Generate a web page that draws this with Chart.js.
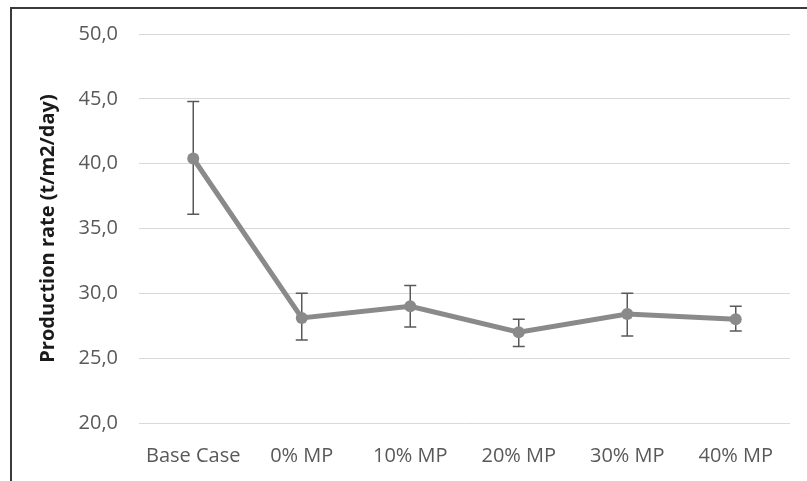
<!DOCTYPE html>
<html>
<head>
<meta charset="utf-8">
<script src="https://cdn.jsdelivr.net/npm/chart.js@4"></script>
<style>
  html, body { margin: 0; padding: 0; background: #fff; }
  #wrap { position: relative; width: 807px; height: 481px; }
  #frame { position: absolute; left: 10px; top: 7px; right: -5px; bottom: -5px;
           border-top: 2px solid #3a3a3a; border-left: 2px solid #3a3a3a; }
  canvas { position: absolute; left: 0; top: 0; }
</style>
</head>
<body>
<div id="wrap">
  <div id="frame"></div>
  <canvas id="chart" width="807" height="481"></canvas>
</div>
<script>
const categories = ['Base Case', '0% MP', '10% MP', '20% MP', '30% MP', '40% MP'];
const productionRate = [40.4, 28.1, 29.0, 27.0, 28.4, 28.0];
const errorUpper = [44.8, 30.0, 30.6, 28.0, 30.0, 29.0];
const errorLower = [36.1, 26.4, 27.4, 25.9, 26.7, 27.1];
const yTicks = [20, 25, 30, 35, 40, 45, 50];

const errorBars = {
  id: 'errorBars',
  beforeDatasetsDraw(chart) {
    const ctx = chart.ctx;
    const x = chart.scales.x, y = chart.scales.y;
    ctx.save();
    ctx.strokeStyle = '#595959';
    ctx.lineWidth = 1.5;
    categories.forEach((c, i) => {
      const px = x.getPixelForValue(i);
      const top = y.getPixelForValue(errorUpper[i]);
      const bot = y.getPixelForValue(errorLower[i]);
      ctx.beginPath();
      ctx.moveTo(px, top); ctx.lineTo(px, bot);
      ctx.moveTo(px - 6, top); ctx.lineTo(px + 6, top);
      ctx.moveTo(px - 6, bot); ctx.lineTo(px + 6, bot);
      ctx.stroke();
    });
    ctx.restore();
  }
};

new Chart(document.getElementById('chart'), {
  type: 'line',
  data: {
    labels: categories,
    datasets: [{
      data: productionRate,
      borderColor: '#8a8a8a',
      backgroundColor: '#8a8a8a',
      borderWidth: 5,
      pointRadius: 6,
      pointBorderWidth: 0,
      tension: 0
    }]
  },
  options: {
    responsive: false,
    animation: false,
    layout: { padding: { left: 36, top: 34, right: 17, bottom: 0 } },
    plugins: { legend: { display: false }, tooltip: { enabled: false } },
    scales: {
      x: {
        offset: true,
        grid: { display: false, drawTicks: false },
        border: { display: false },
        ticks: { color: '#595959', padding: 21, font: { family: 'Open Sans', size: 20 } },
        afterFit(s) { s.height = 58; }
      },
      y: {
        min: 20,
        max: 50,
        afterBuildTicks(s) { s.ticks = yTicks.map(v => ({ value: v })); },
        grid: { color: '#d9d9d9', lineWidth: 1, drawTicks: false },
        border: { display: false },
        ticks: {
          color: '#595959', padding: 21,
          font: { family: 'Open Sans', size: 20 },
          callback: v => v.toFixed(1).replace('.', ',')
        },
        title: {
          display: true,
          text: 'Production rate (t/m2/day)',
          color: '#1a1a1a',
          padding: 0,
          font: { family: 'Open Sans', size: 20, weight: 'bold' }
        },
        afterFit(s) { s.width = 103; }
      }
    }
  },
  plugins: [errorBars]
});
</script>
</body>
</html>
